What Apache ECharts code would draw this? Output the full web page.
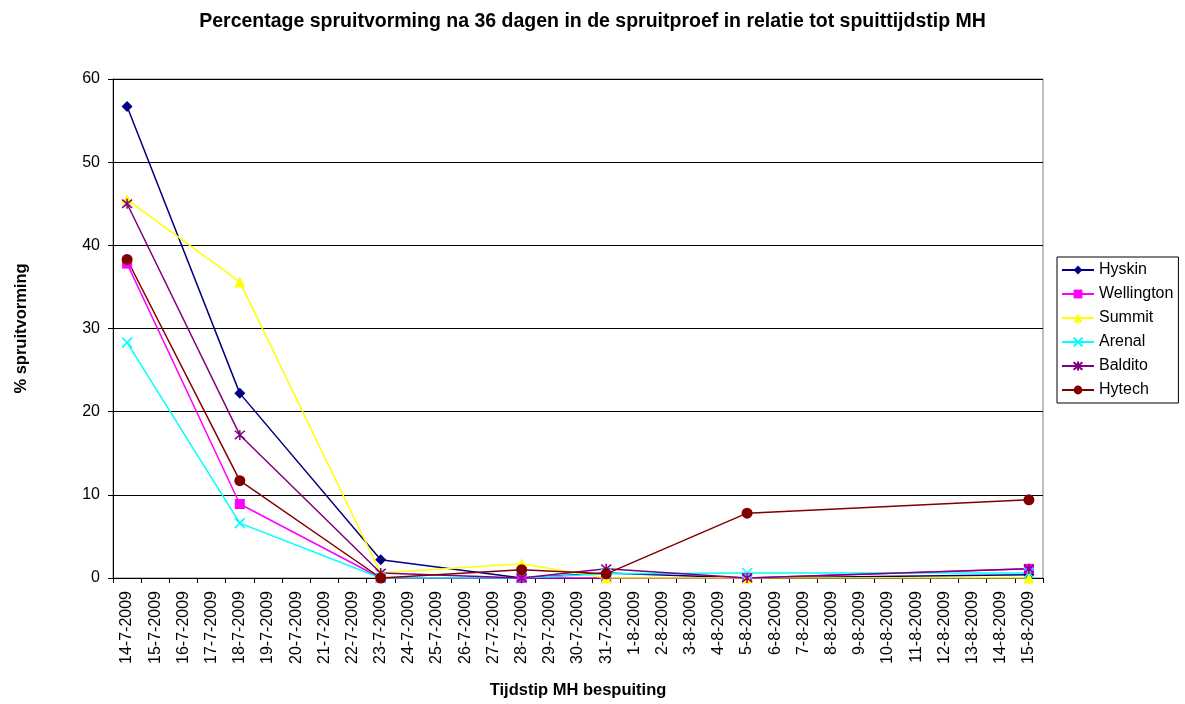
<!DOCTYPE html>
<html><head><meta charset="utf-8">
<script src="https://cdn.jsdelivr.net/npm/echarts@6/dist/echarts.min.js"></script>
<style>html,body{margin:0;padding:0;background:#fff}#c{width:1185px;height:704px}</style>
</head><body><div id="c"></div>
<script>
const categories = ['14-7-2009','15-7-2009','16-7-2009','17-7-2009','18-7-2009','19-7-2009','20-7-2009','21-7-2009','22-7-2009','23-7-2009','24-7-2009','25-7-2009','26-7-2009','27-7-2009','28-7-2009','29-7-2009','30-7-2009','31-7-2009','1-8-2009','2-8-2009','3-8-2009','4-8-2009','5-8-2009','6-8-2009','7-8-2009','8-8-2009','9-8-2009','10-8-2009','11-8-2009','12-8-2009','13-8-2009','14-8-2009','15-8-2009'];
const sprayDates = ['14-7-2009','18-7-2009','23-7-2009','28-7-2009','31-7-2009','5-8-2009','15-8-2009'];
const hyskin     = [56.7, 22.2, 2.2, 0.0, 0.6, 0.0, 0.4];
const wellington = [37.8, 8.9, 0.0, 0.0, 0.0, 0.0, 1.1];
const summit     = [45.5, 35.6, 0.6, 1.7, 0.0, 0.0, 0.0];
const arenal     = [28.3, 6.6, 0.0, 0.0, 0.5, 0.6, 0.6];
const baldito    = [45.0, 17.2, 0.6, 0.0, 1.1, 0.0, 1.1];
const hytech     = [38.3, 11.7, 0.0, 1.0, 0.5, 7.8, 9.4];
const yTicks = [0, 10, 20, 30, 40, 50, 60];

const FONT = '"Liberation Sans", Arial, sans-serif';
const xPath = 'path://M0,0L10,10M10,0L0,10';
const starPath = 'path://M0,0L10,10M10,0L0,10M5,-1L5,11';
function mk(name, vals, color, symbol, size, strokeOnly) {
  return {
    name, type: 'line',
    data: sprayDates.map((d, i) => [d, vals[i]]),
    symbol, symbolSize: size,
    lineStyle: { color, width: 1.5 },
    itemStyle: strokeOnly ? { color, borderColor: color, borderWidth: 1.5 } : { color, borderWidth: 0 },
    emphasis: { disabled: true },
    animation: false
  };
}
const chart = echarts.init(document.getElementById('c'), null, { renderer: 'canvas' });
chart.setOption({
  backgroundColor: '#fff',
  animation: false,
  title: {
    text: 'Percentage spruitvorming na 36 dagen in de spruitproef in relatie tot spuittijdstip MH',
    left: 'center', top: 7,
    textStyle: { fontFamily: FONT, fontSize: 19.5, fontWeight: 'bold', color: '#000' }
  },
  grid: { left: 113, right: 142, top: 79, bottom: 124, show: true, borderColor: '#808080', borderWidth: 1 },
  legend: {
    orient: 'vertical', left: 1057, top: 257,
    itemWidth: 32, itemHeight: 11, itemGap: 8,
    padding: [5, 5, 5, 4],
    borderColor: '#000', borderWidth: 1,
    textStyle: { fontFamily: FONT, fontSize: 16, color: '#000' },
    data: ['Hyskin','Wellington','Summit','Arenal','Baldito','Hytech']
  },
  xAxis: {
    type: 'category', data: categories, boundaryGap: true,
    name: 'Tijdstip MH bespuiting', nameLocation: 'middle', nameGap: 104,
    nameTextStyle: { fontFamily: FONT, fontSize: 16.5, fontWeight: 'bold', color: '#000' },
    axisLine: { lineStyle: { color: '#000', width: 1 } },
    axisTick: { show: true, length: 5, lineStyle: { color: '#000' } },
    axisLabel: { rotate: 90, interval: 0, fontFamily: FONT, fontSize: 16, color: '#000', margin: 13 },
    splitLine: { show: false }
  },
  yAxis: {
    type: 'value', min: yTicks[0], max: yTicks[yTicks.length-1], interval: 10,
    name: '% spruitvorming', nameLocation: 'middle', nameGap: 83, nameRotate: 90,
    nameTextStyle: { fontFamily: FONT, fontSize: 16.5, fontWeight: 'bold', color: '#000' },
    axisLine: { show: true, lineStyle: { color: '#000', width: 1 } },
    axisTick: { show: true, length: 5, lineStyle: { color: '#000' } },
    axisLabel: { fontFamily: FONT, fontSize: 16, color: '#000', margin: 13 },
    splitLine: { lineStyle: { color: '#000', width: 1 } }
  },
  series: [
    mk('Hyskin', hyskin, '#000080', 'diamond', 11, false),
    mk('Wellington', wellington, '#FF00FF', 'rect', 10, false),
    mk('Summit', summit, '#FFFF00', 'triangle', 11, false),
    mk('Arenal', arenal, '#00FFFF', xPath, 10, true),
    mk('Baldito', baldito, '#800080', starPath, 10, true),
    mk('Hytech', hytech, '#800000', 'circle', 11, false)
  ]
});
</script></body></html>
